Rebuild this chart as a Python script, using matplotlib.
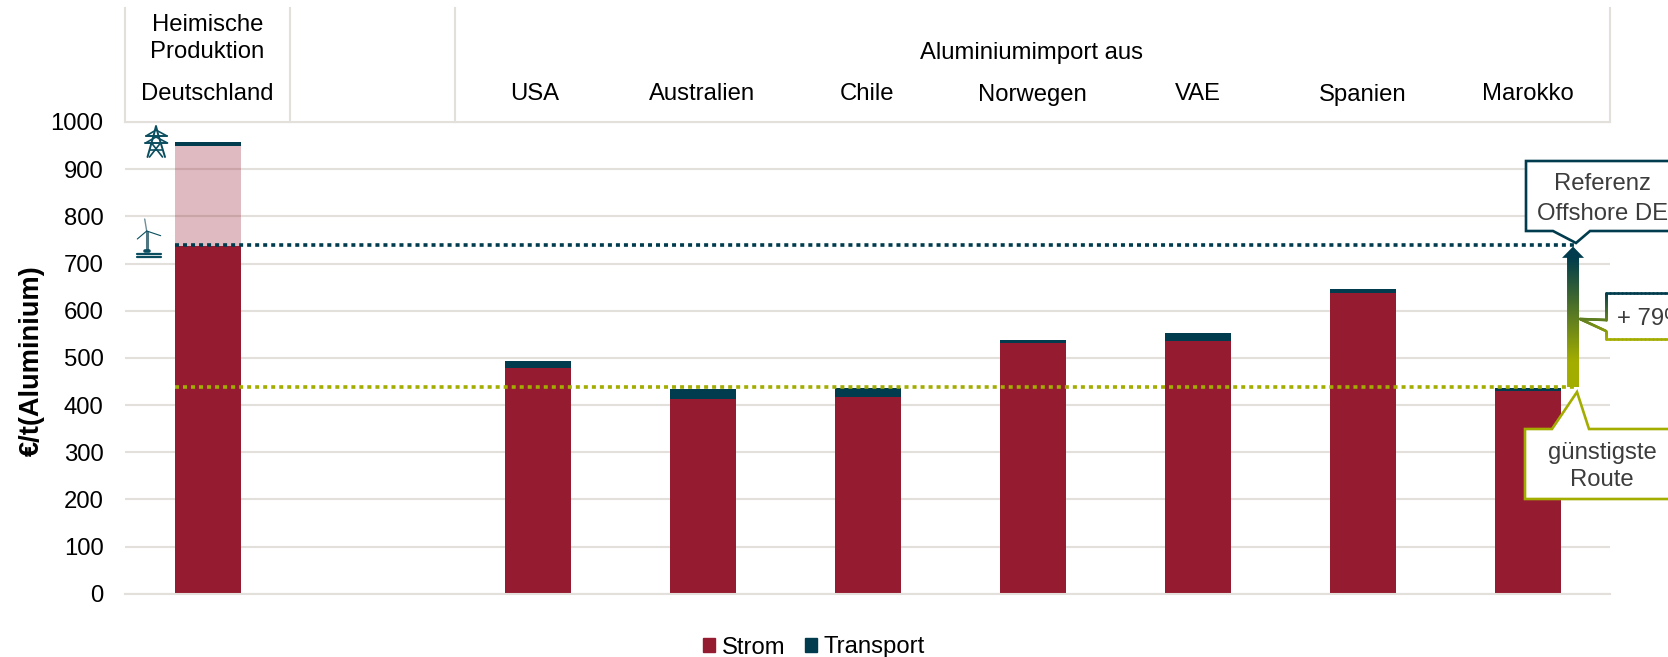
import numpy as np
import matplotlib
matplotlib.use("Agg")
import matplotlib.pyplot as plt
from matplotlib.patches import Polygon, Patch
from matplotlib.collections import LineCollection
from matplotlib.colors import LinearSegmentedColormap

plt.rcParams['font.family'] = ['Liberation Sans', 'DejaVu Sans']

W, H = 1668, 657

categories = ["Deutschland", "", "USA", "Australien", "Chile", "Norwegen", "VAE", "Spanien", "Marokko"]
positions = [0, 2, 3, 4, 5, 6, 7, 8]
strom = [737, 478, 412, 417, 532, 536, 638, 430]
strom_grid_extra = 213
transport = [8, 15, 21, 19, 6, 17, 8, 6]
ref_offshore = 739
ref_cheapest = 437.5
yticks = list(range(0, 1001, 100))

RED = "#951B30"
TEAL = "#003C4D"
GREEN = "#A3AD00"
GRID = "#E3E0DC"
TXT = "#3C3C3C"
FS = 17.2

fig = plt.figure(figsize=(W / 100, H / 100), dpi=100, facecolor="white")
L, R, T, B = 125, 1610, 122, 593.7
ax = fig.add_axes([L / W, 1 - B / H, (R - L) / W, (B - T) / H])
ax.set_xlim(-0.5, 8.5)
ax.set_ylim(0, 1000)
ax.set_yticks(yticks)
ax.set_xticks([])
ax.tick_params(axis="y", length=0, labelsize=FS, pad=15.5, labelcolor="black")
ax.grid(axis="y", color=GRID, lw=1.5, zorder=0)
ax.set_axisbelow(True)
for s in ["top", "left", "right"]:
    ax.spines[s].set_visible(False)
ax.spines["bottom"].set_color(GRID)
ax.spines["bottom"].set_linewidth(1.5)

bw = 0.4
ax.bar(positions, strom, bw, color=RED, zorder=2, label="Strom", clip_on=False)
tops = list(strom)
tops[0] = strom[0] + strom_grid_extra
ax.bar([0], [strom_grid_extra], bw, bottom=[strom[0]], color=RED, alpha=0.3, zorder=2, lw=0)
ax.bar(positions, transport, bw, bottom=tops, color=TEAL, zorder=3, label="Transport")

dash = (0, (1.11, 1.11))
ax.plot([-bw / 2, 8.28], [ref_offshore] * 2, color=TEAL, lw=2.6, ls=dash, zorder=5, dash_capstyle="butt")
ax.plot([-bw / 2, 8.28], [ref_cheapest] * 2, color=GREEN, lw=2.6, ls=dash, zorder=5, dash_capstyle="butt")

# gradient arrow between both reference levels
ax_x = 8.276
shaft = 6 / 165
head = 11 / 165
head_h = 24
tip = ref_offshore - 3
cmap = LinearSegmentedColormap.from_list("g", [TEAL, GREEN])
grad = np.clip((np.linspace(0, 1, 256) - 0.08) * 1.35, 0, 1).reshape(-1, 1)
im = ax.imshow(grad, cmap=cmap, vmin=0, vmax=1, aspect="auto", origin="upper",
               extent=(ax_x - head, ax_x + head, ref_cheapest, tip), zorder=6)
arrow = Polygon([(ax_x - shaft, ref_cheapest), (ax_x - shaft, tip - head_h),
                 (ax_x - head, tip - head_h), (ax_x, tip),
                 (ax_x + head, tip - head_h), (ax_x + shaft, tip - head_h),
                 (ax_x + shaft, ref_cheapest)], transform=ax.transData, fc="none", ec="none")
ax.add_patch(arrow)
im.set_clip_path(arrow)
ax.set_xlim(-0.5, 8.5)
ax.set_ylim(0, 1000)

ax.set_ylabel("€/t(Aluminium)", fontsize=19.6, fontweight="bold", color="black")
ax.yaxis.set_label_coords((45 - L) / (R - L), (B - 361) / (B - T))

handles = [Patch(color=RED, label="Strom"), Patch(color=TEAL, label="Transport")]
ax.legend(handles=handles, ncols=2, frameon=False, fontsize=FS, loc="center",
          bbox_to_anchor=((814 - L) / (R - L), (B - 647.5) / (B - T)),
          handlelength=0.5, handleheight=0.55, handletextpad=0.28, columnspacing=0.82,
          labelcolor="black")

# pixel overlay
ov = fig.add_axes([0, 0, 1, 1], zorder=10)
ov.set_xlim(0, W)
ov.set_ylim(H, 0)
ov.axis("off")
ov.patch.set_alpha(0)

# header table
for xv in [L, 290, 455, R]:
    ov.plot([xv, xv], [8, T], color=GRID, lw=1.5, zorder=1)
ov.plot([L, R], [T, T], color=GRID, lw=1.5, zorder=1)
ctext = dict(ha="center", va="baseline", fontsize=FS, color="black")
for i, c in enumerate(categories):
    if c:
        dx = -3 if c == "USA" else 0
        ov.text(L + 165 * (i + 0.5) + dx, 100.5, c, **ctext)
ov.text(207.5, 31, "Heimische", **ctext)
ov.text(207.5, 58.5, "Produktion", **ctext)
ov.text(1032, 59, "Aluminiumimport aus", **ctext)

# callouts
LW = 1.9
btext = dict(ha="center", va="baseline", fontsize=FS, color=TXT, zorder=5)
ov.add_patch(Polygon([(1526, 161), (1720, 161), (1720, 231), (1590, 231), (1576, 243), (1553, 231), (1526, 231)],
                     fc="white", ec=TEAL, lw=LW, zorder=4))
ov.text(1603, 190.5, "Referenz", **btext)
ov.text(1603, 220, "Offshore DE", **btext)

ov.add_patch(Polygon([(1525, 429), (1552, 429), (1577, 392), (1589, 429), (1720, 429), (1720, 499), (1525, 499)],
                     fc="white", ec=GREEN, lw=LW, zorder=4))
ov.text(1602, 459, "günstigste", **btext)
ov.text(1602, 486.5, "Route", **btext)

pts = [(1720, 293), (1606, 293), (1606, 320), (1580, 319), (1606, 331), (1606, 339), (1720, 339)]
ov.add_patch(Polygon(pts, fc="white", ec="none", zorder=4))
segs, cols = [], []
for a, b in zip(pts[:-1], pts[1:]):
    for s in np.linspace(0, 1, 30)[:-1]:
        p = np.array(a) + (np.array(b) - np.array(a)) * s
        q = np.array(a) + (np.array(b) - np.array(a)) * (s + 1 / 29)
        segs.append([p, q])
        cols.append(cmap((0.5 * (p[1] + q[1]) - 293) / 46))
ov.add_collection(LineCollection(segs, colors=cols, lw=LW, zorder=5, capstyle="round"))
ov.text(1617, 325, "+ 79%", ha="left", va="baseline", fontsize=FS, color=TXT, zorder=6)

# pylon icon
pc = "#0A4E5F"
def ln(xs, ys, c=pc, w=1.2):
    ov.plot(xs, ys, color=c, lw=w, zorder=3, solid_capstyle="round")
ln([147.5, 154, 156, 158, 165], [157, 134, 126, 134, 157], w=1.4)
ln([146, 156, 167], [136, 130, 136])
ln([146, 167], [136, 136], w=1.4)
ln([145.5, 156, 167.5], [143, 137, 143])
ln([145.5, 167.5], [143, 143], w=1.4)
ln([150, 162], [150, 150])
ln([151.5, 162.5], [143, 157])
ln([160.5, 149.5], [143, 157])

# wind turbine icon
ln([147, 147], [232, 250], c="#4F7783", w=2.2)
ln([146.7, 144.7], [231, 219], c="#6F8F99", w=1.0)
ln([146.7, 160.7], [231, 235.7], w=0.8)
ln([146.7, 137.3], [231, 239], w=0.8)
ln([145, 149], [250.5, 250.5], w=2.6)
ln([137, 161], [253.5, 253.5], w=1.6)
ln([137, 161], [257, 257], w=1.6)

fig.savefig("out.png", dpi=100)
